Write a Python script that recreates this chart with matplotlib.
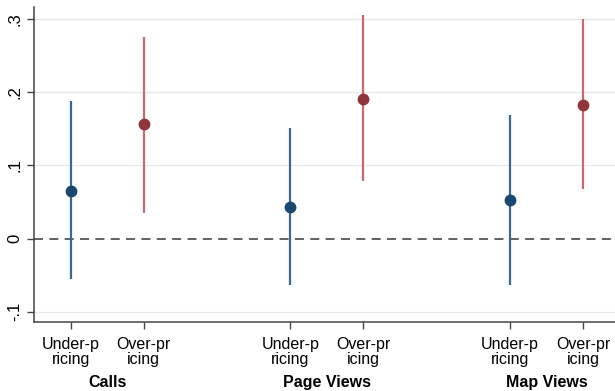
#!/usr/bin/env python3

import matplotlib.pyplot as plt
import numpy as np

plt.rcParams['font.family'] = ['Liberation Sans', 'DejaVu Sans']

groups = ['Calls', 'Page Views', 'Map Views']
tick_labels = ['Under-p\nricing', 'Over-pr\nicing'] * 3
positions = [1, 2, 4, 5, 7, 8]

# coefficient, lower CI, upper CI
under_coef = [0.065, 0.043, 0.052]
under_lo = [-0.055, -0.064, -0.064]
under_hi = [0.188, 0.151, 0.169]

over_coef = [0.156, 0.191, 0.183]
over_lo = [0.035, 0.078, 0.068]
over_hi = [0.276, 0.305, 0.300]

blue = '#1a476f'
blue_ci = '#3b6891'
red = '#90353b'
red_ci = '#c46a70'

fig = plt.figure(figsize=(6.15, 3.91), dpi=100)
ax = fig.add_axes([34 / 615, 1 - 322 / 391, 1 - 34 / 615, 315 / 391])

for y in [-0.1, 0.1, 0.2, 0.3]:
    ax.axhline(y, color='#e8e8e8', lw=0.9, zorder=0)
ax.axhline(0, color='#555555', lw=1.3, ls=(0, (5, 3.5)), zorder=1)

under_x = positions[0::2]
over_x = positions[1::2]
ax.vlines(under_x, under_lo, under_hi, color=blue_ci, lw=1.6, zorder=2)
ax.plot(under_x, under_coef, 'o', color=blue, ms=7.5, zorder=3)
ax.vlines(over_x, over_lo, over_hi, color=red_ci, lw=1.6, zorder=2)
ax.plot(over_x, over_coef, 'o', color=red, ms=7.5, zorder=3)

ax.set_xlim(0.5, 0.5 + 581 / 73.2)
ax.set_ylim(-0.1 - 10.3 / 730, 0.3 + 12 / 730)

ax.set_yticks([-0.1, 0, 0.1, 0.2, 0.3])
ax.set_yticklabels(['-.1', '0', '.1', '.2', '.3'], rotation=90, va='center', fontsize=12)
ax.set_xticks(positions)
ax.set_xticklabels(tick_labels, fontsize=11.5, linespacing=0.95)
ax.tick_params(axis='both', color='#444444', length=5, width=1)
ax.tick_params(axis='x', pad=6)

for s in ['top', 'right']:
    ax.spines[s].set_visible(False)
for s in ['left', 'bottom']:
    ax.spines[s].set_color('#444444')
    ax.spines[s].set_linewidth(1.1)

for i, g in enumerate(groups):
    ax.text((positions[2 * i] + positions[2 * i + 1]) / 2, -0.1 - 70.5 / 730, g,
            ha='center', va='center', fontsize=11.5, fontweight='bold')

fig.savefig('out.png', dpi=100)
